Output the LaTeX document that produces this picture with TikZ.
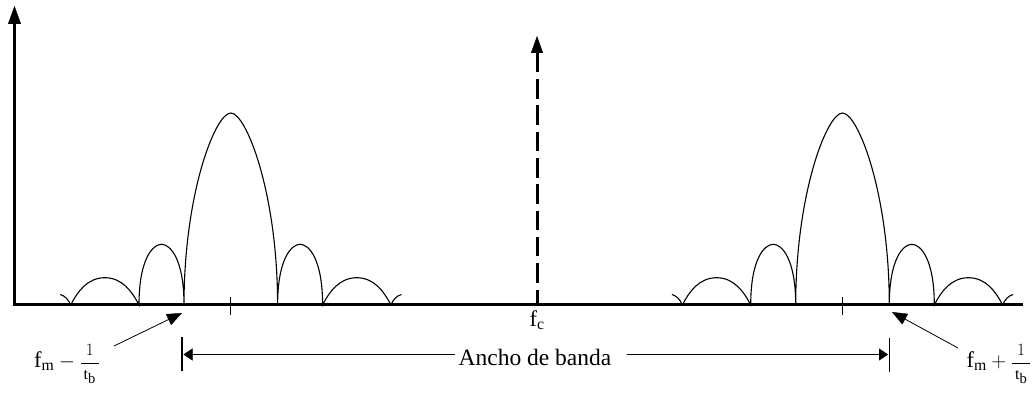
\documentclass[tikz,border=0pt]{standalone}
\usepackage{graphicx}
\usepackage{fontspec}
\setmainfont{Liberation Serif}
\usetikzlibrary{arrows.meta}
\newcommand{\bwfrac}{\mbox{\fontsize{16}{18}\selectfont$\displaystyle\frac{1}{\rule{0pt}{12pt}\,\mathrm{t}_{\scalebox{1.3}{$\scriptstyle\mathrm{b}$}}\,}$}}
\tikzset{
  lobe/.style={line width=1.1pt},
  axisline/.style={line width=3pt},
  tickmark/.style={line width=1pt},
  barline/.style={line width=1.3pt},
  bigtip/.style={-{Triangle[length=18pt,width=13pt,line width=0.4pt]}},
  bwarrow/.style={line width=1pt,-{Triangle[length=9pt,width=12pt,line width=0.4pt]}},
  pointer/.style={line width=0.8pt,-{Triangle[length=15pt,width=12pt,line width=0.4pt]}},
  lbl/.style={inner sep=1pt,font=\fontsize{22.5}{26}\selectfont},
  bwtext/.style={inner sep=3pt,font=\fontsize{23.5}{28}\selectfont},
  lobeset/.pic={
    \draw[lobe] (-170.6,-10.5) .. controls (-165.5,-9) and (-162.5,-5.5) .. (-160.1,0)
      .. controls (-153.3,-13.65) and (-143.0,-27.3) .. (-125.95,-27.3)
      .. controls (-108.9,-27.3) and (-98.6,-13.65) .. (-91.8,0)
      .. controls (-91.8,-45.5) and (-78.3,-60.7) .. (-69.3,-60.7)
      .. controls (-60.3,-60.7) and (-46.8,-45.5) .. (-46.8,0)
      .. controls (-46.8,-112) and (-15.4,-192) .. (0,-192)
      .. controls (15.4,-192) and (46.8,-112) .. (46.8,0)
      .. controls (46.8,-45.5) and (60.3,-60.7) .. (69.3,-60.7)
      .. controls (78.3,-60.7) and (91.8,-45.5) .. (91.8,0)
      .. controls (98.6,-13.65) and (108.9,-27.3) .. (125.95,-27.3)
      .. controls (143.0,-27.3) and (153.3,-13.65) .. (160.1,0)
      .. controls (162.5,-5.5) and (165.5,-9) .. (170.6,-10.5);
    \draw[tickmark] (0,-8) -- (0,10);
  }
}
\begin{document}
\begin{tikzpicture}[x=1pt,y=-1pt]
\useasboundingbox (0,0) rectangle (1036,395);
% spectra
\pic at (230.8,305) {lobeset};
\pic at (842.5,305) {lobeset};
% axes
\coordinate (O) at (14.5,305);
\coordinate (Yt) at (14.5,6);
\coordinate (Xl) at (13,305);
\coordinate (Xr) at (1023,305);
\draw[axisline] (Xl) -- (Xr);
\draw[axisline,bigtip] (O) -- (Yt);
% carrier
\coordinate (fcTip) at (537,36);
\coordinate (fcBase) at (537,305);
\draw[line width=3pt,dash pattern=on 19.5pt off 6.8pt,{Triangle[length=17pt,width=12pt,line width=0.4pt]}-] (fcTip) -- (fcBase);
\node[lbl] (fc) at (537,320) {$\mathrm{f_c}$};
% labels
\node[lbl] (fmL) at (67,364) {$\mathrm{f_m}-\bwfrac$};
\node[lbl] (fmR) at (999,364) {$\mathrm{f_m}+\bwfrac$};
\coordinate (pLs) at (114,346);
\coordinate (pLt) at (182,313);
\coordinate (pRs) at (958,348);
\coordinate (pRt) at (892,312);
\draw[pointer] (pLs) -- (pLt);
\draw[pointer] (pRs) -- (pRt);
% bandwidth
\node[bwtext] (bw) at (535,357) {Ancho de banda};
\coordinate (barLt) at (182,337);
\coordinate (barLb) at (182,371);
\coordinate (barRt) at (889.3,338);
\coordinate (barRb) at (889.3,372);
\draw[barline] (barLt) -- (barLb);
\draw[barline] (barRt) -- (barRb);
\coordinate (bwL) at (183.5,354.5);
\coordinate (bwR) at (888,354.5);
\draw[bwarrow] (bw.west |- bwL) -- (bwL);
\draw[bwarrow] ([xshift=12pt]bw.east |- bwR) -- (bwR);
\end{tikzpicture}
\end{document}
